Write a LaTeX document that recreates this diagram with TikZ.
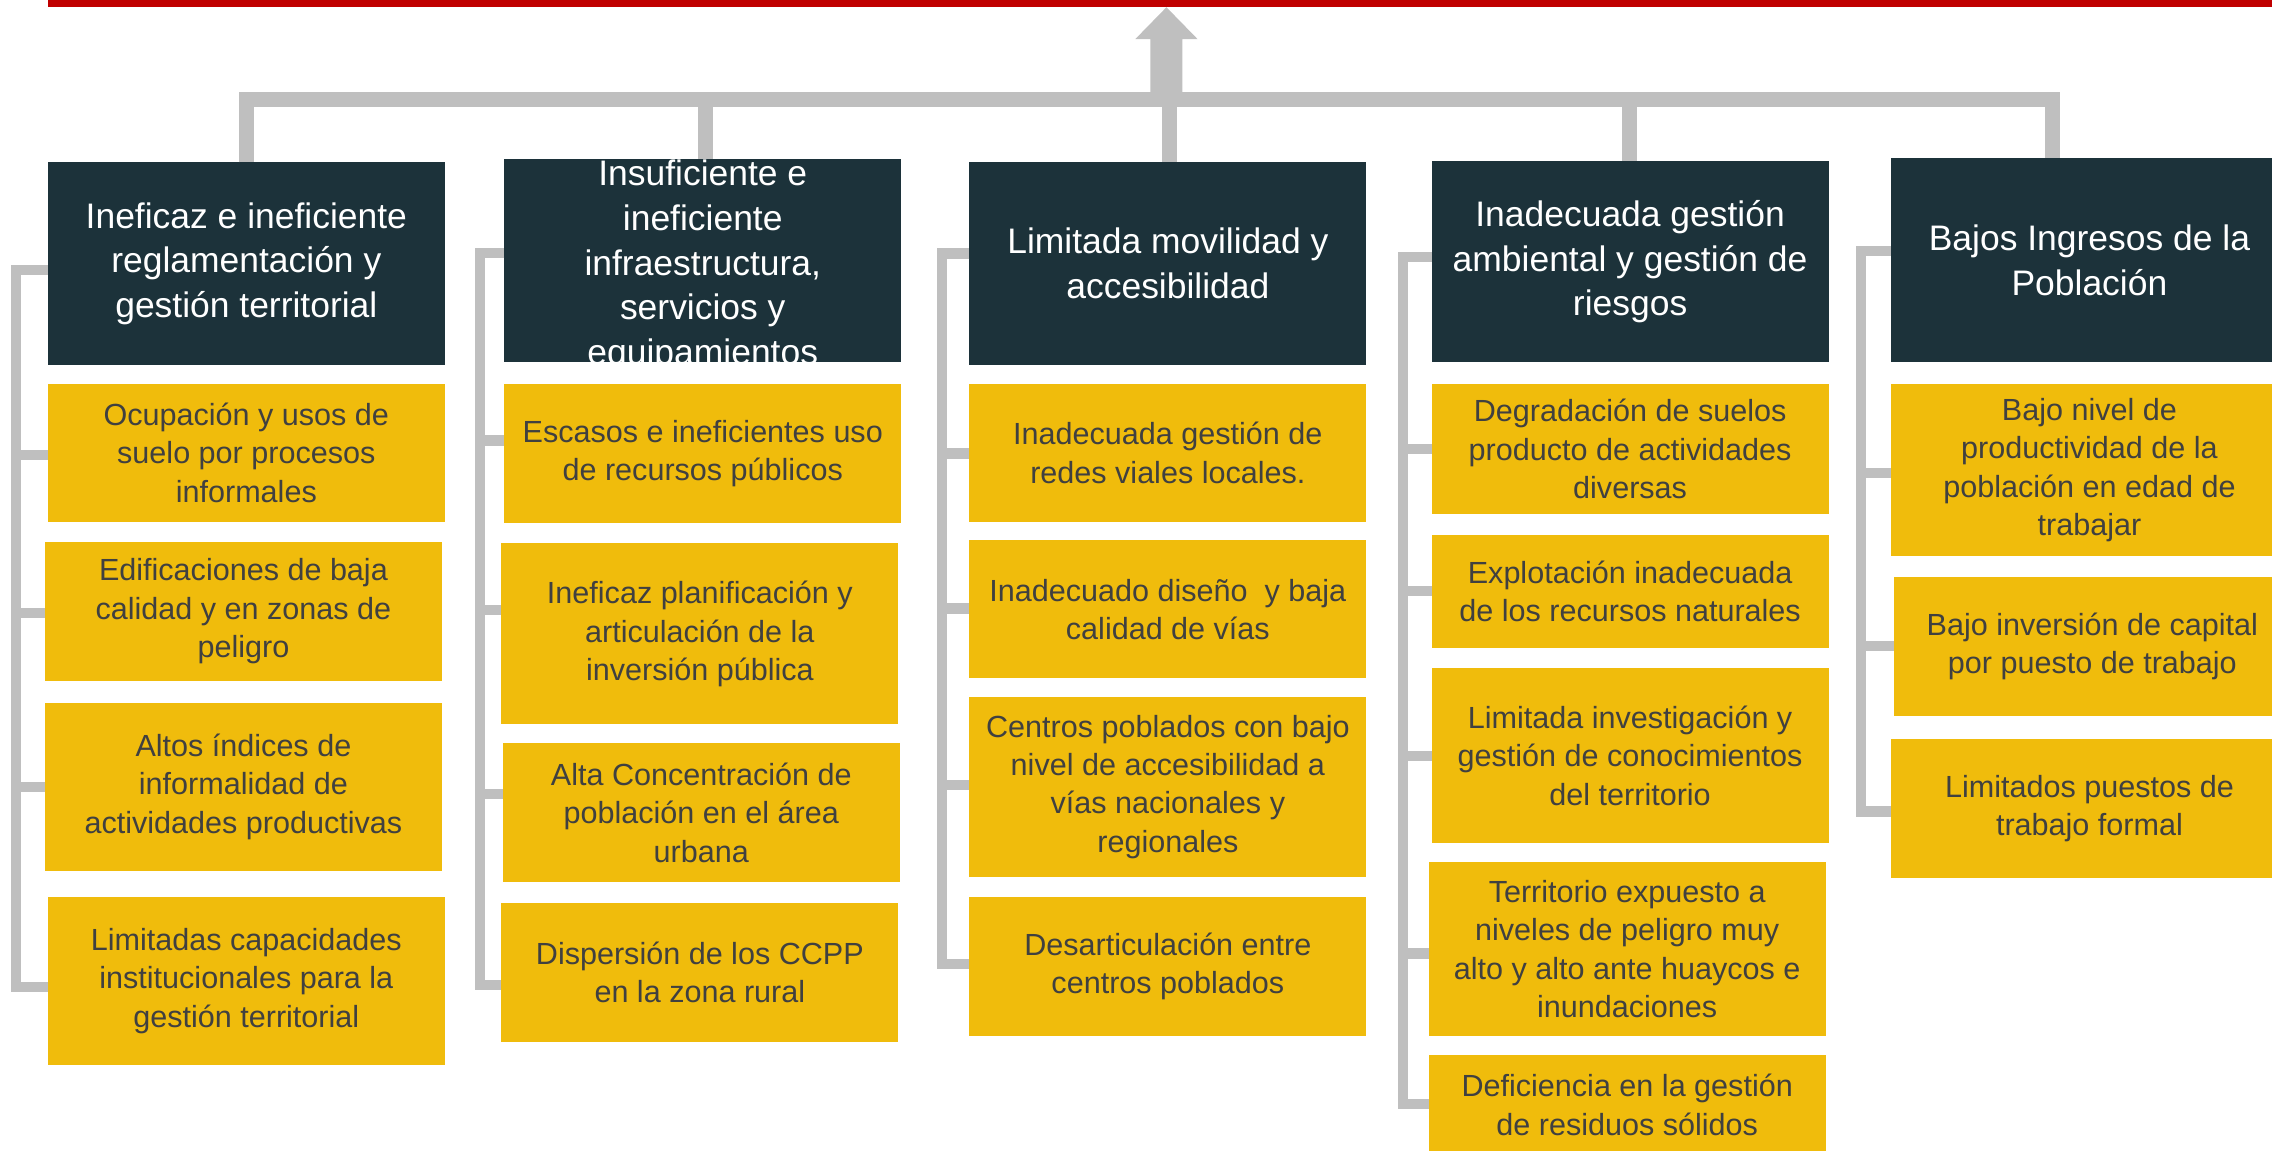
\documentclass[tikz,border=0pt]{standalone}
\usepackage{fontspec}
\setmainfont{Liberation Sans}
\definecolor{hdrc}{HTML}{1C323A}
\definecolor{ylw}{HTML}{F0BC0C}
\definecolor{gry}{HTML}{BFBFBF}
\definecolor{txtg}{HTML}{404040}
\definecolor{redl}{HTML}{C00000}
\tikzset{
  box/.style={anchor=north west, inner sep=0pt, outer sep=0pt, align=center},
  hdr/.style={box, fill=hdrc, text=white, font=\fontsize{17.4}{22}\selectfont},
  ylwbox/.style={box, fill=ylw, text=txtg, font=\fontsize{15}{18.85}\selectfont},
  brk/.style={draw=gry, line width=0.175cm},
  trunk/.style={draw=gry, line width=0.265cm},
}
\newcommand\mkbox[7]{\node[#1, minimum width={(#4-#2)*0.025cm}, minimum height={(#5-#3)*0.025cm}] (#6) at (#2,-#3) {#7};}
\begin{document}
\begin{tikzpicture}[x=0.025cm,y=0.025cm]
\useasboundingbox (0,0) rectangle (1568,-794);
\clip (0,0) rectangle (1568,-794);
% red line
\fill[redl] (33,0) rectangle (1568,-5);
% headers
\mkbox{hdr, text depth=3.5pt}{33}{112}{307}{252}{h1}{Ineficaz e ineficiente\\reglamentación y\\gestión territorial}
\node[hdr, minimum width={274*0.025cm}, minimum height={140*0.025cm},
  path picture={\node[anchor=center, fill=none, draw=none, inner sep=0pt, minimum size=0pt,
    text=white, align=center, font=\fontsize{17.4}{21.9}\selectfont]
    at ([yshift=-0.09cm]path picture bounding box.center)
    {Insuficiente e\\ineficiente\\infraestructura,\\servicios y\\equipamientos};}]
  (h2) at (348,-110) {};
\mkbox{hdr}{669}{112}{943}{252}{h3}{Limitada movilidad y\\accesibilidad}
\mkbox{hdr, text depth=3.5pt}{988}{111}{1262}{250}{h4}{Inadecuada gestión\\ambiental y gestión de\\riesgos}
\mkbox{hdr}{1305}{109}{1579}{250}{h5}{Bajos Ingresos de la\\Población}
% column 1
\mkbox{ylwbox}{33}{265}{307}{360}{y11}{Ocupación y usos de\\suelo por procesos\\informales}
\mkbox{ylwbox}{31}{374}{305}{470}{y12}{Edificaciones de baja\\calidad y en zonas de\\peligro}
\mkbox{ylwbox}{31}{485}{305}{601}{y13}{Altos índices de\\informalidad de\\actividades productivas}
\mkbox{ylwbox}{33}{619}{307}{735}{y14}{Limitadas capacidades\\institucionales para la\\gestión territorial}
% column 2
\mkbox{ylwbox}{348}{265}{622}{361}{y21}{Escasos e ineficientes uso\\de recursos públicos}
\mkbox{ylwbox}{346}{375}{620}{500}{y22}{Ineficaz planificación y\\articulación de la\\inversión pública}
\mkbox{ylwbox}{347}{513}{621}{609}{y23}{Alta Concentración de\\población en el área\\urbana}
\mkbox{ylwbox}{346}{623}{620}{719}{y24}{Dispersión de los CCPP\\en la zona rural}
% column 3
\mkbox{ylwbox}{669}{265}{943}{360}{y31}{Inadecuada gestión de\\redes viales locales.}
\mkbox{ylwbox}{669}{373}{943}{468}{y32}{Inadecuado diseño\ \ y baja\\calidad de vías}
\mkbox{ylwbox}{669}{481}{943}{605}{y33}{Centros poblados con bajo\\nivel de accesibilidad a\\vías nacionales y\\regionales}
\mkbox{ylwbox}{669}{619}{943}{715}{y34}{Desarticulación entre\\centros poblados}
% column 4
\mkbox{ylwbox}{988}{265}{1262}{355}{y41}{Degradación de suelos\\producto de actividades\\diversas}
\mkbox{ylwbox}{988}{369}{1262}{447}{y42}{Explotación inadecuada\\de los recursos naturales}
\mkbox{ylwbox}{988}{461}{1262}{582}{y43}{Limitada investigación y\\gestión de conocimientos\\del territorio}
\mkbox{ylwbox}{986}{595}{1260}{715}{y44}{Territorio expuesto a\\niveles de peligro muy\\alto y alto ante huaycos e\\inundaciones}
\mkbox{ylwbox}{986}{728}{1260}{797}{y45}{Deficiencia en la gestión\\de residuos sólidos}
% column 5
\mkbox{ylwbox}{1305}{265}{1579}{384}{y51}{Bajo nivel de\\productividad de la\\población en edad de\\trabajar}
\mkbox{ylwbox}{1307}{398}{1581}{494}{y52}{Bajo inversión de capital\\por puesto de trabajo}
\mkbox{ylwbox}{1305}{510}{1579}{606}{y53}{Limitados puestos de\\trabajo formal}
% brackets
\draw[brk] (h1.west |- 0,-186.5) -| (11,-681) -- (y14.west |- 0,-681);
\foreach \yy/\bb in {314/y11,423/y12,543/y13} \draw[brk] (11,-\yy) -- (\bb.west |- 0,-\yy);
\draw[brk] (h2.west |- 0,-174.5) -| (331,-680) -- (y24.west |- 0,-680);
\foreach \yy/\bb in {304/y21,421/y22,548/y23} \draw[brk] (331,-\yy) -- (\bb.west |- 0,-\yy);
\draw[brk] (h3.west |- 0,-175) -| (650,-665) -- (y34.west |- 0,-665);
\foreach \yy/\bb in {313/y31,420/y32,542/y33} \draw[brk] (650,-\yy) -- (\bb.west |- 0,-\yy);
\draw[brk] (h4.west |- 0,-177.5) -| (968.5,-762) -- (y45.west |- 0,-762);
\foreach \yy/\bb in {310/y41,408/y42,522/y43,658/y44} \draw[brk] (968.5,-\yy) -- (\bb.west |- 0,-\yy);
\draw[brk] (h5.west |- 0,-173.5) -| (1284.5,-560) -- (y53.west |- 0,-560);
\foreach \yy/\bb in {326.5/y51,446/y52} \draw[brk] (1284.5,-\yy) -- (\bb.west |- 0,-\yy);
% trunk
\draw[trunk] (h1.north -| 170,0) -- (170,-68.5) -- (1416.5,-68.5) -- (h5.north -| 1416.5,0);
\draw[trunk] (487,-68.5) -- (h2.north -| 487,0);
\draw[trunk] (807,-68.5) -- (h3.north -| 807,0);
\draw[trunk] (1124.5,-68.5) -- (h4.north -| 1124.5,0);
% arrow
\coordinate (tip) at (805,-5);
\fill[gry] (794,-64) -- (794,-27) -- (783.5,-27) -- (tip) -- (826.5,-27) -- (816,-27) -- (816,-64) -- cycle;
\end{tikzpicture}
\end{document}
